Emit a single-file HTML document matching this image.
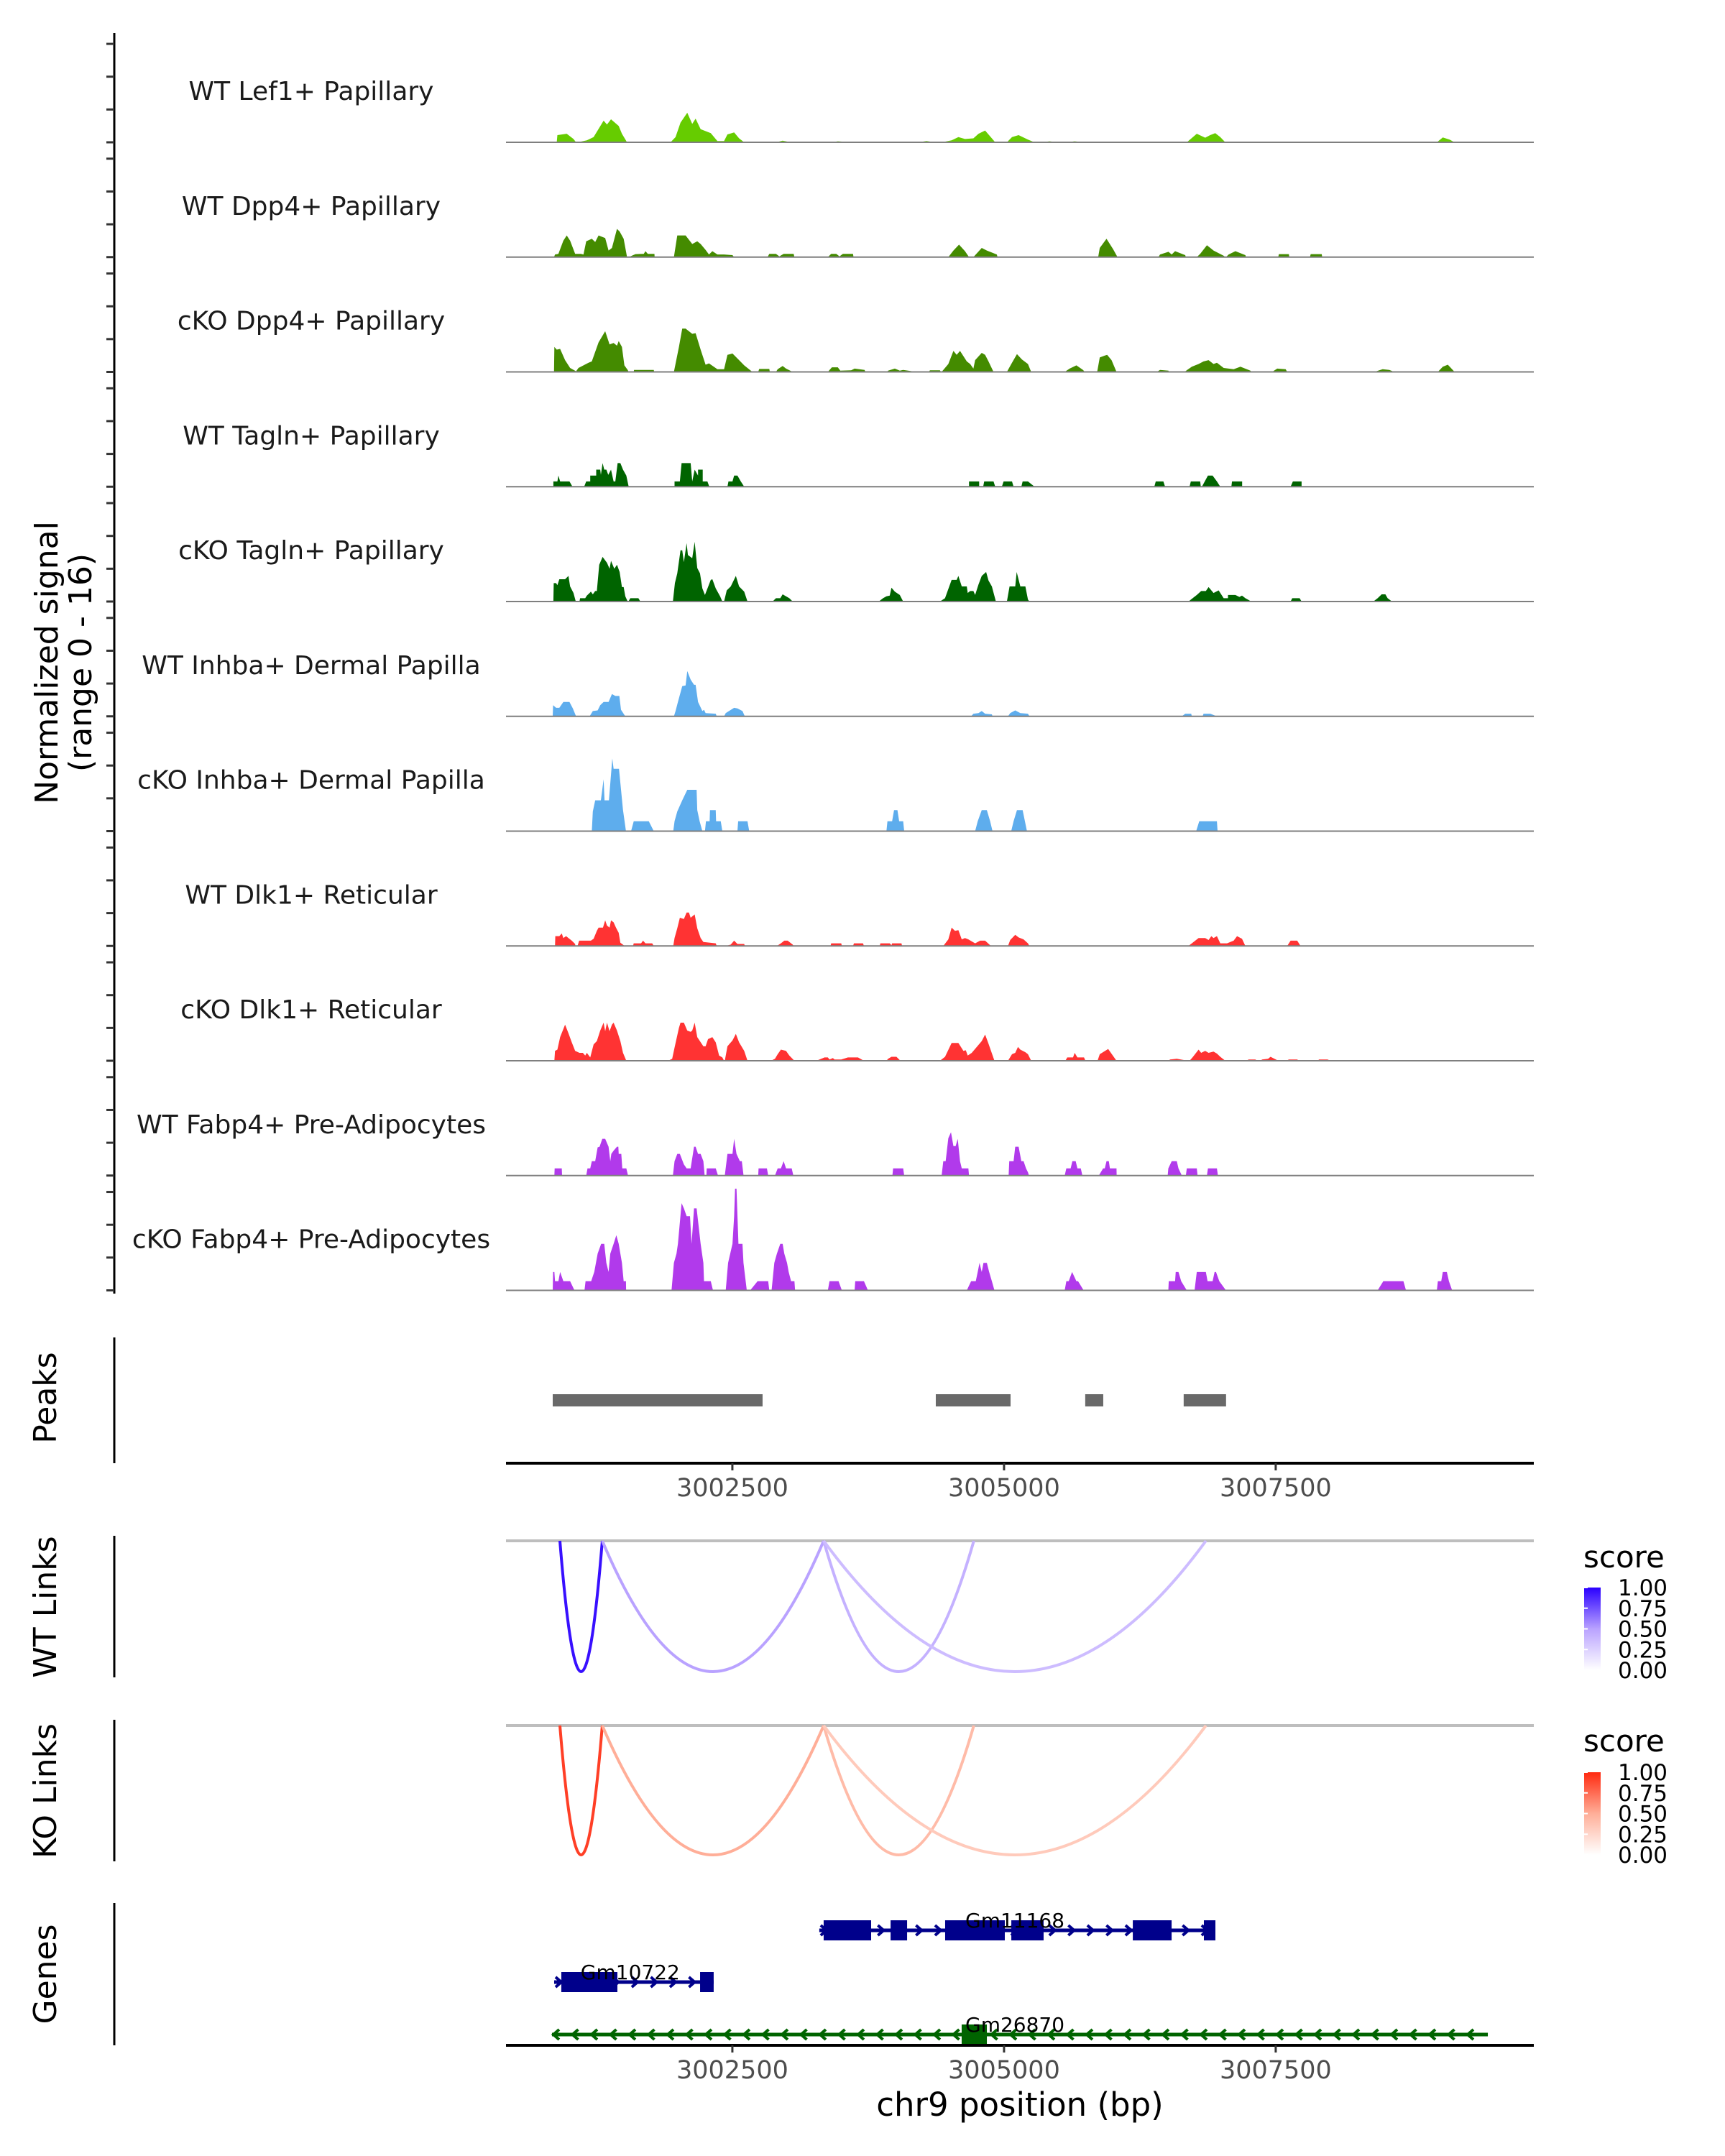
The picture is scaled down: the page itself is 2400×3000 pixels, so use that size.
<!DOCTYPE html>
<html><head><meta charset="utf-8"><title>Coverage plot chr9</title>
<style>
html,body{margin:0;padding:0;background:#fff;}
svg{display:block;font-family:"DejaVu Sans","Liberation Sans",sans-serif;}
</style></head>
<body>
<svg id="chart" xmlns="http://www.w3.org/2000/svg" width="2400" height="3000" viewBox="0 0 2400 3000">
<rect x="0" y="0" width="2400" height="3000" fill="#fff"/>
<g id="tracks"></g>
<g id="yaxis">
<line x1="159" y1="46" x2="159" y2="1800" stroke="#000" stroke-width="3"/>
</g>
<text x="0" y="0" transform="translate(80,922) rotate(-90)" text-anchor="middle" font-size="44" fill="#000">Normalized signal</text>
<text x="0" y="0" transform="translate(127,922) rotate(-90)" text-anchor="middle" font-size="44" fill="#000">(range 0 - 16)</text>
<g id="peaks"></g>
<line x1="159" y1="1861" x2="159" y2="2036" stroke="#000" stroke-width="3"/>
<text transform="translate(78,1945) rotate(-90)" text-anchor="middle" font-size="44">Peaks</text>
<line x1="159" y1="2137" x2="159" y2="2334" stroke="#000" stroke-width="3"/>
<text transform="translate(78,2236) rotate(-90)" text-anchor="middle" font-size="44">WT Links</text>
<line x1="159" y1="2393" x2="159" y2="2590" stroke="#000" stroke-width="3"/>
<text transform="translate(78,2492) rotate(-90)" text-anchor="middle" font-size="44">KO Links</text>
<line x1="159" y1="2648" x2="159" y2="2846" stroke="#000" stroke-width="3"/>
<text transform="translate(78,2747) rotate(-90)" text-anchor="middle" font-size="44">Genes</text>
<g id="links"></g>
<g id="genes"></g>
<g id="xaxes"></g>
<text x="1419" y="2944" text-anchor="middle" font-size="45" fill="#000">chr9 position (bp)</text>
<defs>
<linearGradient id="gradBlue" x1="0" y1="1" x2="0" y2="0">
<stop offset="0" stop-color="#ffffff"/><stop offset="0.5" stop-color="#b9a2ff"/><stop offset="1" stop-color="#2a00ff"/>
</linearGradient>
<linearGradient id="gradRed" x1="0" y1="1" x2="0" y2="0">
<stop offset="0" stop-color="#ffffff"/><stop offset="0.5" stop-color="#ffae98"/><stop offset="1" stop-color="#ff2a10"/>
</linearGradient>
</defs>
<g id="legends"></g>
</svg>
<script>
// ---- data (genomic positions stored as bp offset from 3,000,000) ----
const OFFSET = 3000000;
const trackNames = ["WT Lef1+ Papillary","WT Dpp4+ Papillary","cKO Dpp4+ Papillary","WT Tagln+ Papillary","cKO Tagln+ Papillary","WT Inhba+ Dermal Papilla","cKO Inhba+ Dermal Papilla","WT Dlk1+ Reticular","cKO Dlk1+ Reticular","WT Fabp4+ Pre-Adipocytes","cKO Fabp4+ Pre-Adipocytes"];
const trackColors = ["#66cc00","#448b00","#448b00","#006400","#006400","#5eaded","#5eaded","#ff3333","#ff3333","#b13aeb","#b13aeb"];
const yTickValues = [0,5,10,15];
const xTickValues = [3002500,3005000,3007500];
const xTickLabels = ["3002500","3005000","3007500"];

const covWTLef1 = [[884,0],[890,1.1],[976,1.3],[1038,0.5],[1062,0],[1075,0],[1161,0.3],[1223,0.8],[1315,3.3],[1346,2.7],[1383,3.5],[1454,2.5],[1484,1.3],[1531,0],[1931,0],[1977,0.8],[2023,3],[2085,4.5],[2131,2.8],[2162,3.6],[2208,2],[2301,1.4],[2362,0.2],[2424,0.2],[2455,1.2],[2516,1.5],[2562,0.6],[2609,0],[2901,0],[2963,0.25],[3040,0],[3409,0],[3471,0.15],[3610,0],[4210,0],[4287,0.2],[4364,0],[4426,0],[4518,0.3],[4580,0.8],[4641,0.5],[4718,0.6],[4765,1.3],[4826,1.8],[4919,0],[5026,0],[5073,0.8],[5134,1.1],[5220,0.4],[5281,0],[5342,0],[5419,0.15],[5496,0],[5573,0],[5650,0.15],[5743,0],[6312,0],[6400,0.1],[6559,0],[6682,0],[6774,1.3],[6851,0.7],[6897,1.1],[6944,1.4],[6990,0.8],[7036,0],[7159,0],[7252,0.1],[7760,0],[8983,0],[9038,0.75],[9100,0.4],[9146,0]];
const covWTDpp4 = [[859,0],[868,0.4],[899,0.5],[945,2.5],[976,3.3],[1007,2.5],[1053,0.5],[1106,0.5],[1130,0.4],[1155,2.4],[1207,2.8],[1238,2.3],[1269,3.3],[1330,2.9],[1361,1.0],[1392,1.4],[1438,4.3],[1463,3.9],[1500,2.8],[1531,0],[1546,0],[1608,0.45],[1685,0.5],[1700,0.9],[1722,0.5],[1783,0.5],[1785,0],[1962,0],[1993,3.3],[2070,3.3],[2131,2.0],[2177,2.4],[2208,2.0],[2254,1.1],[2285,0.4],[2316,0.9],[2362,0.4],[2424,0.4],[2501,0.3],[2516,0],[2824,0],[2840,0.5],[2901,0.5],[2932,0.1],[2972,0.5],[3064,0.5],[3071,0],[3379,0],[3409,0.5],[3456,0.5],[3486,0.1],[3517,0.5],[3610,0.5],[3615,0],[4487,0],[4534,1.0],[4586,1.9],[4641,0.9],[4678,0],[4718,0],[4795,1.4],[4842,1.0],[4934,0.4],[4940,0],[5866,0],[5881,1.4],[5943,2.8],[6004,1.2],[6044,0],[6420,0],[6436,0.4],[6513,0.8],[6543,0.4],[6574,0.9],[6667,0.3],[6673,0],[6774,0],[6805,0.5],[6867,1.8],[6898,1.4],[6928,1.0],[7021,0.2],[7036,0],[7042,0],[7067,0.4],[7129,0.9],[7221,0.3],[7227,0],[7523,0],[7529,0.45],[7621,0.45],[7625,0],[7815,0],[7822,0.45],[7923,0.45],[7928,0]];
const covKODpp4 = [[859,0],[862,3.8],[884,3.4],[915,3.5],[961,1.8],[1007,0.6],[1062,0.1],[1084,0.6],[1130,1.0],[1176,1.4],[1207,1.6],[1269,4.5],[1330,6.2],[1370,4.2],[1407,4.4],[1438,4.0],[1454,4.7],[1484,3.8],[1506,1.0],[1537,0.3],[1546,0],[1592,0],[1595,0.3],[1777,0.3],[1780,0],[1962,0],[2008,3.8],[2039,6.6],[2070,6.6],[2131,5.8],[2162,5.9],[2208,3.4],[2254,1.1],[2285,1.3],[2362,0.4],[2424,0.4],[2455,2.6],[2501,2.8],[2562,1.8],[2609,1.0],[2670,0.2],[2686,0],[2738,0],[2747,0.45],[2840,0.45],[2845,0],[2901,0],[2917,0.4],[2963,0.9],[2994,0.5],[3055,0],[3379,0],[3416,0.7],[3471,0.7],[3493,0.2],[3594,0.25],[3625,0.5],[3717,0.3],[3724,0],[3924,0],[3933,0.2],[3995,0.5],[4041,0.2],[4072,0.3],[4195,0],[4309,0],[4318,0.25],[4410,0.25],[4420,0],[4426,0],[4487,1.2],[4534,3.2],[4564,2.6],[4595,3.2],[4657,1.6],[4688,1.2],[4718,0.5],[4734,1.8],[4795,2.9],[4826,2.6],[4857,1.6],[4903,0],[5026,0],[5073,1.4],[5119,2.7],[5165,1.9],[5220,1.2],[5250,0],[5558,0],[5604,0.5],[5666,1.0],[5727,0.3],[5743,0],[5857,0],[5881,2.2],[5927,2.5],[5949,2.6],[5989,1.8],[6035,0],[6405,0],[6436,0.3],[6513,0.2],[6516,0],[6660,0],[6728,0.8],[6790,1.2],[6836,1.6],[6882,1.8],[6928,1.2],[6959,1.4],[7021,0.6],[7113,0.4],[7175,0.8],[7267,0.2],[7276,0],[7467,0],[7514,0.5],[7591,0.4],[7606,0],[8407,0],[8484,0.4],[8545,0.3],[8592,0],[8992,0],[9038,0.8],[9084,1.1],[9146,0]];
const covWTTagln = [[853,0],[853,0.8],[890,0.8],[899,1.7],[915,0.8],[1001,0.8],[1029,0],[1136,0],[1155,0.8],[1192,0.8],[1192,1.7],[1247,1.7],[1247,2.6],[1284,2.6],[1290,1.8],[1306,3.6],[1321,2.6],[1340,2.6],[1358,1.8],[1383,2.6],[1407,0.8],[1423,0.8],[1444,3.6],[1469,3.6],[1494,2.6],[1524,1.7],[1546,0],[1968,0],[1968,0.8],[2017,0.8],[2033,3.6],[2116,3.6],[2131,0.8],[2153,2.6],[2184,1.7],[2184,2.6],[2227,2.6],[2227,0.8],[2270,0.8],[2288,0],[2455,0],[2464,0.8],[2501,0.8],[2516,1.7],[2547,1.7],[2578,0.8],[2609,0],[4678,0],[4678,0.8],[4771,0.8],[4771,0],[4808,0],[4817,0.8],[4903,0.8],[4919,0],[4980,0],[4996,0.8],[5073,0.8],[5088,0],[5159,0],[5171,0.8],[5220,0.8],[5281,0],[6383,0],[6396,0.8],[6466,0.8],[6482,0],[6707,0],[6719,0.8],[6805,0.8],[6811,0],[6821,0],[6876,1.7],[6919,1.7],[6959,0.8],[6990,0],[7092,0],[7098,0.8],[7191,0.8],[7191,0],[7637,0],[7658,0.8],[7738,0.8],[7738,0]];
const covKOTagln = [[853,0],[856,2.8],[878,2.8],[890,2.5],[908,3.4],[961,3.4],[992,3.9],[1007,2.3],[1038,1.3],[1059,0],[1093,0],[1099,0.5],[1146,0.5],[1161,0.9],[1186,1.3],[1198,1.5],[1216,1.1],[1238,1.6],[1253,1.6],[1275,5.6],[1306,6.8],[1346,5.9],[1370,5.0],[1383,6.2],[1414,5.0],[1438,5.6],[1463,4.5],[1484,2.2],[1500,2.2],[1515,0.8],[1537,0],[1543,0],[1561,0.5],[1635,0.5],[1654,0],[1953,0],[1971,2.8],[1993,4.3],[2023,7.8],[2039,7.8],[2054,6.0],[2079,8.9],[2091,7.1],[2131,6.6],[2153,9.1],[2177,5.1],[2202,4.3],[2224,2.0],[2248,1.0],[2301,3.3],[2316,3.4],[2347,2.0],[2387,0.8],[2408,0],[2424,0],[2448,1.7],[2485,2.3],[2532,3.9],[2562,2.3],[2609,1.5],[2639,0],[2870,0],[2901,0.5],[2941,0.5],[2963,1.1],[2994,0.8],[3024,0.5],[3055,0],[3847,0],[3887,0.5],[3918,0.8],[3948,0.9],[3964,2.1],[3995,1.5],[4041,1.0],[4072,0],[4410,0],[4457,0.5],[4518,3.3],[4564,3.3],[4580,3.9],[4611,2.3],[4657,2.3],[4666,1.3],[4688,1.6],[4718,1.6],[4734,1.0],[4765,2.6],[4795,3.9],[4835,4.5],[4857,3.2],[4888,2.3],[4925,0],[5026,0],[5051,2.3],[5103,2.3],[5116,4.5],[5150,2.3],[5196,2.3],[5220,0.3],[5234,0],[6697,0],[6728,0.4],[6774,1.0],[6814,1.6],[6857,1.6],[6882,2.2],[6928,1.3],[6975,1.7],[7021,0.5],[7061,0.5],[7061,1.0],[7129,1.0],[7166,0.7],[7190,0.9],[7221,0.5],[7276,0],[7637,0],[7652,0.5],[7720,0.5],[7738,0],[8398,0],[8438,0.5],[8475,1.1],[8509,1.1],[8530,0.5],[8570,0]];
const covWTInhba = [[847,0],[850,1.7],[878,1.3],[908,1.3],[945,2.2],[1001,2.2],[1032,1.2],[1062,0],[1186,0],[1216,0.8],[1260,0.9],[1284,1.7],[1315,2.2],[1361,2.2],[1392,3.4],[1423,3.1],[1460,3.1],[1475,1.0],[1515,0],[1962,0],[1977,0.8],[1999,2.2],[2039,4.6],[2070,4.7],[2085,6.9],[2116,5.6],[2147,4.8],[2162,4.8],[2184,2.2],[2224,0.8],[2239,1.0],[2254,0.5],[2347,0.4],[2356,0],[2424,0],[2439,0.5],[2516,1.3],[2547,1.2],[2593,0.8],[2615,0],[4697,0],[4718,0.4],[4765,0.5],[4795,0.8],[4826,0.4],[4888,0.3],[4894,0],[5036,0],[5057,0.5],[5103,0.9],[5150,0.5],[5220,0.4],[5234,0],[6636,0],[6667,0.4],[6722,0.4],[6728,0],[6827,0],[6836,0.4],[6898,0.4],[6959,0]];
const covKOInhba = [[1207,0],[1216,3.0],[1238,4.7],[1290,4.7],[1315,7.9],[1324,4.7],[1364,4.7],[1395,11.1],[1407,9.5],[1423,9.5],[1457,9.5],[1494,3.2],[1521,0],[1568,0],[1592,1.5],[1731,1.5],[1777,0],[1956,0],[1968,1.5],[1993,3.0],[2039,4.7],[2085,6.3],[2171,6.3],[2177,3.2],[2199,1.5],[2224,0],[2248,0],[2257,1.5],[2291,1.5],[2294,3.2],[2347,3.2],[2350,1.5],[2393,1.5],[2408,0],[2547,0],[2553,1.5],[2639,1.5],[2655,0],[3918,0],[3927,1.5],[3970,1.5],[3988,3.2],[4019,3.2],[4035,1.5],[4072,1.5],[4081,0],[4734,0],[4758,1.5],[4795,3.2],[4842,3.2],[4872,1.5],[4894,0],[5066,0],[5088,1.5],[5119,3.2],[5171,3.2],[5211,0],[6768,0],[6796,1.5],[6959,1.5],[6965,0]];
const covWTDlk1 = [[868,0],[871,1.5],[908,1.5],[930,1.9],[945,1.2],[970,1.5],[992,1.2],[1022,0.8],[1053,0.3],[1055,0],[1075,0],[1090,0.8],[1198,0.8],[1223,1.1],[1253,2.3],[1269,2.8],[1309,2.8],[1330,3.9],[1346,3.1],[1370,2.8],[1383,3.9],[1407,3.6],[1429,2.8],[1454,2.0],[1469,0.5],[1509,0],[1586,0],[1592,0.4],[1660,0.4],[1678,0.8],[1700,0.4],[1762,0.4],[1777,0],[1956,0],[1968,1.2],[1993,2.7],[2017,4.3],[2054,4.1],[2079,5.1],[2100,5.1],[2116,4.3],[2153,4.8],[2177,2.7],[2208,1.2],[2233,0.6],[2347,0.4],[2356,0],[2439,0],[2485,0.2],[2516,0.8],[2547,0.3],[2609,0.3],[2615,0],[2910,0],[2947,0.4],[2978,0.8],[3009,0.8],[3055,0.2],[3064,0],[3403,0],[3409,0.4],[3502,0.4],[3508,0],[3610,0],[3619,0.4],[3702,0.4],[3711,0],[3856,0],[3862,0.4],[3948,0.4],[3964,0.1],[3970,0.4],[4056,0.4],[4062,0],[4441,0],[4487,1.0],[4518,2.8],[4549,2.3],[4580,2.4],[4611,1.0],[4641,1.2],[4672,1.0],[4734,0.4],[4780,0.8],[4826,0.8],[4872,0.1],[4882,0],[5036,0],[5057,0.9],[5103,1.7],[5134,1.3],[5180,1.0],[5220,0.4],[5234,0],[6697,0],[6728,0.4],[6790,1.2],[6851,1.2],[6882,0.9],[6907,1.5],[6928,1.2],[6959,1.5],[6990,0.4],[7052,0.4],[7113,0.8],[7144,1.5],[7190,1.1],[7221,0],[7606,0],[7637,0.8],[7698,0.8],[7729,0]];
const covKODlk1 = [[862,0],[868,1.5],[890,1.7],[915,3.6],[961,5.5],[992,4.2],[1022,2.8],[1053,1.5],[1093,1.2],[1124,1.2],[1146,0.8],[1161,1.2],[1192,0.5],[1223,2.5],[1253,3.0],[1284,4.6],[1315,5.8],[1330,4.5],[1346,5.8],[1370,4.5],[1392,5.5],[1407,5.8],[1438,4.6],[1469,3.0],[1494,1.2],[1524,0],[1909,0],[1946,0.3],[1968,2.0],[2008,5.0],[2023,5.8],[2054,5.8],[2085,4.6],[2116,4.4],[2131,4.6],[2153,5.8],[2177,3.6],[2233,2.2],[2254,2.2],[2276,3.3],[2316,3.6],[2347,2.8],[2378,0.8],[2408,0.5],[2424,0],[2430,0],[2455,2.2],[2501,3.1],[2532,4.1],[2562,2.8],[2609,1.5],[2639,0],[2855,0],[2892,0.3],[2917,1.0],[2947,1.7],[2994,1.5],[3024,0.8],[3071,0],[3271,0],[3302,0.2],[3348,0.5],[3379,0.5],[3394,0.2],[3425,0.4],[3440,0.2],[3502,0.2],[3563,0.5],[3656,0.5],[3711,0],[3918,0],[3933,0.3],[3964,0.6],[4010,0.6],[4047,0],[4410,0],[4457,0.6],[4518,2.7],[4580,2.7],[4626,1.5],[4648,1.6],[4666,0.8],[4703,1.2],[4749,2.1],[4795,3.0],[4826,4.0],[4857,2.6],[4912,0],[5036,0],[5073,1.0],[5103,1.2],[5128,2.1],[5150,1.7],[5196,1.3],[5220,1.0],[5250,0],[5564,0],[5582,0.5],[5635,0.5],[5650,1.2],[5675,0.5],[5736,0.5],[5749,0],[5860,0],[5881,1.0],[5958,1.8],[6035,0],[6512,0],[6528,0.2],[6590,0.3],[6691,0],[6707,0],[6734,0.5],[6790,1.7],[6814,1.2],[6851,1.5],[6882,1.2],[6928,1.4],[6959,1.1],[6990,0.6],[7036,0],[7227,0],[7252,0.2],[7313,0.2],[7329,0],[7359,0],[7375,0.2],[7430,0.3],[7452,0.6],[7513,0.1],[7529,0],[7597,0],[7621,0.2],[7698,0.2],[7714,0],[7886,0],[7899,0.2],[7976,0.2],[8007,0]];
const covWTFabp4 = [[862,0],[865,1.1],[930,1.1],[933,0],[1155,0],[1167,1.1],[1192,1.1],[1207,2.2],[1238,2.2],[1260,4.3],[1278,4.4],[1303,5.6],[1330,5.6],[1361,4.4],[1377,2.2],[1386,3.3],[1407,3.8],[1438,4.4],[1451,4.4],[1454,3.3],[1478,3.3],[1487,1.1],[1524,1.1],[1540,0],[1953,0],[1968,2.2],[1993,3.3],[2017,3.3],[2054,1.7],[2079,1.1],[2116,1.1],[2147,4.4],[2162,4.4],[2184,3.3],[2208,3.3],[2233,2.2],[2245,0],[2261,0],[2264,1.1],[2347,1.1],[2368,0],[2430,0],[2455,3.3],[2501,3.3],[2516,5.6],[2538,3.3],[2569,2.2],[2587,2.2],[2603,0],[2738,0],[2741,1.1],[2818,1.1],[2830,0],[2892,0],[2917,1.1],[2947,1.1],[2972,2.2],[2994,1.1],[3046,1.1],[3061,0],[3973,0],[3979,1.1],[4072,1.1],[4081,0],[4426,0],[4441,2.2],[4463,2.2],[4487,5.7],[4512,6.6],[4534,4.5],[4555,4.5],[4574,5.6],[4595,2.2],[4611,1.1],[4672,1.1],[4678,0],[5042,0],[5048,2.2],[5088,2.2],[5103,4.4],[5134,4.4],[5159,2.2],[5180,2.2],[5202,1.1],[5220,0.5],[5230,0],[5558,0],[5573,1.1],[5613,1.1],[5629,2.2],[5659,2.2],[5675,1.1],[5706,1.1],[5721,0],[5872,0],[5912,1.1],[5927,1.1],[5943,2.2],[5964,2.2],[5974,1.1],[6035,1.1],[6036,0],[6506,0],[6512,1.1],[6543,2.2],[6590,2.2],[6605,1.1],[6636,0],[6673,0],[6682,1.1],[6774,1.1],[6781,0],[6867,0],[6876,1.1],[6959,1.1],[6968,0]];
const covKOFabp4 = [[847,0],[850,2.8],[862,2.8],[868,1.4],[899,1.4],[915,2.8],[945,1.4],[1007,1.4],[1047,0],[1139,0],[1149,1.4],[1201,1.4],[1229,2.8],[1260,5.6],[1293,7.1],[1321,7.1],[1340,4.2],[1361,2.8],[1377,5.6],[1407,7.1],[1432,8.4],[1454,7.1],[1484,4.2],[1500,1.4],[1521,1.4],[1522,0],[1940,0],[1962,4.2],[1986,5.6],[1999,7.1],[2033,13.3],[2054,12.5],[2079,11.3],[2110,11.3],[2125,7.1],[2147,12.5],[2171,12.5],[2208,7.1],[2233,4.2],[2239,1.4],[2301,1.4],[2322,0],[2439,0],[2461,4.2],[2501,7.1],[2516,11.3],[2525,15.5],[2538,15.5],[2556,7.1],[2593,7.1],[2602,4.2],[2633,0],[2664,0],[2732,1.4],[2830,1.4],[2840,0],[2861,0],[2886,4.2],[2910,5.6],[2941,7.1],[2963,7.1],[2978,5.6],[3003,4.2],[3018,2.8],[3040,1.4],[3071,1.4],[3077,0],[3379,0],[3394,1.4],[3477,1.4],[3508,0],[3625,0],[3631,1.4],[3711,1.4],[3748,0],[4657,0],[4697,1.4],[4740,1.4],[4758,2.8],[4774,4.2],[4795,2.8],[4811,4.2],[4842,4.2],[4863,2.8],[4888,1.4],[4912,0],[5558,0],[5573,1.4],[5595,1.4],[5626,2.8],[5666,1.4],[5681,1.4],[5733,0],[6512,0],[6516,1.4],[6574,1.4],[6580,2.8],[6605,2.8],[6630,1.4],[6682,0],[6753,0],[6774,2.8],[6857,2.8],[6873,1.4],[6919,1.4],[6938,2.8],[6950,2.8],[6981,1.4],[7042,0],[8438,0],[8490,1.4],[8675,1.4],[8699,0],[8983,0],[8992,1.4],[9023,1.4],[9038,2.8],[9075,2.8],[9094,1.4],[9124,0]];
const coverage = [covWTLef1,covWTDpp4,covKODpp4,covWTTagln,covKOTagln,covWTInhba,covKOInhba,covWTDlk1,covKODlk1,covWTFabp4,covKOFabp4];

const peakStarts = [847,4372,5747,6653];
const peakEnds = [2778,5060,5913,7043];

const wtLinkStarts = [913,1303,3340,3340];
const wtLinkEnds = [1303,3340,4722,6858];
const wtLinkScores = [0.95,0.5,0.42,0.36];
const koLinkStarts = [913,1303,3340,3340];
const koLinkEnds = [1303,3340,4722,6858];
const koLinkScores = [0.92,0.5,0.42,0.33];
const legendLabels = ["1.00","0.75","0.50","0.25","0.00"];

const geneNames = ["Gm11168","Gm10722","Gm26870"];
const geneStarts = [3300,860,840];
const geneEnds = [6945,2328,9452];
const geneStrands = [1,1,-1];
const geneExonStarts = [[3340,3956,4458,5067,6185,6839],[926,2203],[4610]];
const geneExonEnds = [[3777,4108,5007,5364,6542,6945],[1442,2328],[4842]];
const geneLabelPos = [5100,1560,5100];

// ---- scales / layout ----
const NS = "http://www.w3.org/2000/svg";
const X0 = 704, X1 = 2134, BP0 = 3000417, BP_PER_PX = 6.614;
function xs(bp){ return X0 + (bp - BP0) / BP_PER_PX; }
function xo(off){ return xs(OFFSET + off); }
const TRACK_TOP = 198, TRACK_STEP = 159.75, PX_PER_UNIT = 9.13;
function baseOf(i){ return TRACK_TOP + i * TRACK_STEP; }
function ys(i, v){ return baseOf(i) - v * PX_PER_UNIT; }
function mk(tag){ return document.createElementNS(NS, tag); }

// ---- coverage tracks ----
const gTracks = document.getElementById('tracks');
const gY = document.getElementById('yaxis');
coverage.forEach(function(track, i){
  const b = baseOf(i);
  let d = 'M' + xo(track[0][0]).toFixed(1) + ' ' + b;
  track.forEach(function(p){ d += ' L' + xo(p[0]).toFixed(1) + ' ' + ys(i, p[1]).toFixed(1); });
  d += ' L' + xo(track[track.length-1][0]).toFixed(1) + ' ' + b + ' Z';
  const area = mk('path');
  area.setAttribute('d', d);
  area.setAttribute('fill', trackColors[i]);
  
  
  gTracks.appendChild(area);
  const bl = mk('line');
  bl.setAttribute('x1', X0); bl.setAttribute('x2', X1);
  bl.setAttribute('y1', b); bl.setAttribute('y2', b);
  bl.setAttribute('stroke', '#7f7f7f'); bl.setAttribute('stroke-width', '2');
  
  
  gTracks.appendChild(bl);
  const lab = mk('text');
  lab.setAttribute('x', 433); lab.setAttribute('y', b - 59);
  lab.setAttribute('text-anchor', 'middle'); lab.setAttribute('font-size', '36');
  lab.setAttribute('fill', '#1a1a1a');
  lab.textContent = trackNames[i];
  
  
  gTracks.appendChild(lab);
  yTickValues.forEach(function(v){
    const t = mk('line');
    t.setAttribute('x1', 148); t.setAttribute('x2', 159);
    t.setAttribute('y1', ys(i, v)); t.setAttribute('y2', ys(i, v));
    t.setAttribute('stroke', '#333'); t.setAttribute('stroke-width', '3');
    
    
    gY.appendChild(t);
  });
});

// ---- peaks ----
const gPeaks = document.getElementById('peaks');
peakStarts.forEach(function(s, i){
  const r = mk('rect');
  r.setAttribute('x', xo(s)); r.setAttribute('y', 1940);
  r.setAttribute('width', xo(peakEnds[i]) - xo(s)); r.setAttribute('height', 17);
  r.setAttribute('fill', '#696969');
  
  
  gPeaks.appendChild(r);
});

// ---- x axes ----
const gX = document.getElementById('xaxes');
[2036, 2846].forEach(function(ay){
  const ln = mk('line');
  ln.setAttribute('x1', X0); ln.setAttribute('x2', X1);
  ln.setAttribute('y1', ay); ln.setAttribute('y2', ay);
  ln.setAttribute('stroke', '#000'); ln.setAttribute('stroke-width', '4');
  
  
  gX.appendChild(ln);
  xTickValues.forEach(function(v, k){
    const t = mk('line');
    t.setAttribute('x1', xs(v)); t.setAttribute('x2', xs(v));
    t.setAttribute('y1', ay); t.setAttribute('y2', ay + 10);
    t.setAttribute('stroke', '#333'); t.setAttribute('stroke-width', '3');
    
    
    gX.appendChild(t);
    const tl = mk('text');
    tl.setAttribute('x', xs(v)); tl.setAttribute('y', ay + 46);
    tl.setAttribute('text-anchor', 'middle'); tl.setAttribute('font-size', '35');
    tl.setAttribute('fill', '#4d4d4d');
    tl.textContent = xTickLabels[k];
    
    
    gX.appendChild(tl);
  });
});

// ---- links ----
function lerp(a, b, t){ return Math.round(a + (b - a) * t); }
function scoreColor(s, stops){
  const seg = s < 0.5 ? 0 : 1; const t = seg === 0 ? s / 0.5 : (s - 0.5) / 0.5;
  const a = stops[seg], b = stops[seg+1];
  return 'rgb(' + lerp(a[0],b[0],t) + ',' + lerp(a[1],b[1],t) + ',' + lerp(a[2],b[2],t) + ')';
}
const blueStops = [[255,255,255],[185,162,255],[42,0,255]];
const redStops = [[255,255,255],[255,174,152],[255,42,16]];
const gLinks = document.getElementById('links');
function drawLinks(starts, ends, scores, base, depth, stops, name){
  const bl = mk('line');
  bl.setAttribute('x1', X0); bl.setAttribute('x2', X1);
  bl.setAttribute('y1', base); bl.setAttribute('y2', base);
  bl.setAttribute('stroke', '#bebebe'); bl.setAttribute('stroke-width', '4');
  
  
  gLinks.appendChild(bl);
  starts.forEach(function(s, i){
    const xa = xo(s), xb = xo(ends[i]);
    const p = mk('path');
    p.setAttribute('d', 'M' + xa + ' ' + base + ' Q' + ((xa + xb) / 2) + ' ' + (base + 2 * depth) + ' ' + xb + ' ' + base);
    p.setAttribute('fill', 'none');
    p.setAttribute('stroke', scoreColor(scores[i], stops));
    p.setAttribute('stroke-width', '4');
    
    
    gLinks.appendChild(p);
  });
}
drawLinks(wtLinkStarts, wtLinkEnds, wtLinkScores, 2144, 182, blueStops, 'wt-link');
drawLinks(koLinkStarts, koLinkEnds, koLinkScores, 2401, 180, redStops, 'ko-link');

// ---- legends ----
const gLeg = document.getElementById('legends');
function drawLegend(titleY, barTop, grad, name){
  const tt = mk('text');
  tt.setAttribute('x', 2203); tt.setAttribute('y', titleY + 15);
  tt.setAttribute('font-size', '42'); tt.textContent = 'score';
  
  
  gLeg.appendChild(tt);
  const r = mk('rect');
  r.setAttribute('x', 2204); r.setAttribute('y', barTop);
  r.setAttribute('width', 23); r.setAttribute('height', 115);
  r.setAttribute('fill', 'url(#' + grad + ')');
  
  
  gLeg.appendChild(r);
  legendLabels.forEach(function(l, k){
    const yy = barTop + k * 115 / 4;
    const tk = mk('line');
    tk.setAttribute('x1', 2204); tk.setAttribute('x2', 2209);
    tk.setAttribute('y1', yy); tk.setAttribute('y2', yy);
    tk.setAttribute('stroke', '#fff'); tk.setAttribute('stroke-width', '2');
    
    
    gLeg.appendChild(tk);
    const t = mk('text');
    t.setAttribute('x', 2251); t.setAttribute('y', yy + 11);
    t.setAttribute('font-size', '31'); t.textContent = l;
    
    
    gLeg.appendChild(t);
  });
}
drawLegend(2166, 2209, 'gradBlue', 'wt-legend');
drawLegend(2422, 2466, 'gradRed', 'ko-legend');

// ---- genes ----
const gGenes = document.getElementById('genes');
const geneRows = [2686, 2758, 2831];
const geneColors = ['#00008b', '#00008b', '#006400'];
geneNames.forEach(function(g, i){
  const yy = geneRows[i], col = geneColors[i];
  const xa = xo(geneStarts[i]), xb = xo(geneEnds[i]);
  const ln = mk('line');
  ln.setAttribute('x1', xa); ln.setAttribute('x2', xb);
  ln.setAttribute('y1', yy); ln.setAttribute('y2', yy);
  ln.setAttribute('stroke', col); ln.setAttribute('stroke-width', '5');
  
  
  gGenes.appendChild(ln);
  const step = 26.5;
  for (let x = xa + 6; x < xb - 4; x += step) {
    const ch = mk('polyline');
    const dir = geneStrands[i];
    ch.setAttribute('points', (x - 4*dir) + ',' + (yy - 7) + ' ' + (x + 4*dir) + ',' + yy + ' ' + (x - 4*dir) + ',' + (yy + 7));
    ch.setAttribute('fill', 'none'); ch.setAttribute('stroke', col); ch.setAttribute('stroke-width', '4');
    
    
    gGenes.appendChild(ch);
  }
  geneExonStarts[i].forEach(function(s, k){
    const r = mk('rect');
    r.setAttribute('x', xo(s)); r.setAttribute('y', yy - 14);
    r.setAttribute('width', Math.max(6, xo(geneExonEnds[i][k]) - xo(s))); r.setAttribute('height', 28);
    r.setAttribute('fill', col);
    
    
    gGenes.appendChild(r);
  });
  const t = mk('text');
  t.setAttribute('x', xo(geneLabelPos[i])); t.setAttribute('y', yy - 4);
  t.setAttribute('text-anchor', 'middle'); t.setAttribute('font-size', '28'); t.setAttribute('fill', '#000');
  t.textContent = g;
  
  
  gGenes.appendChild(t);
});
</script>
</body></html>
